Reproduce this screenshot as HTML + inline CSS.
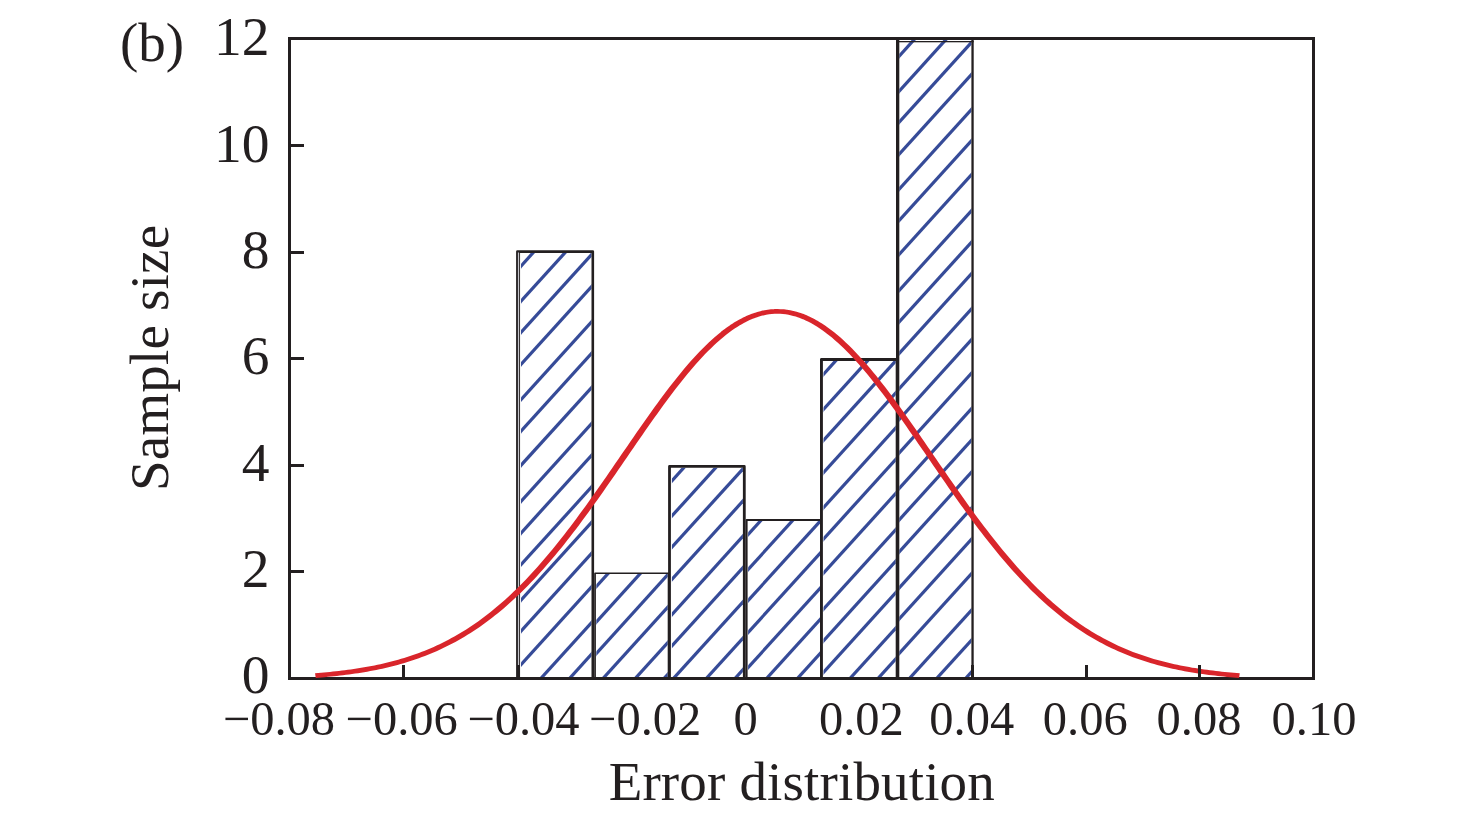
<!DOCTYPE html>
<html lang="en"><head><meta charset="utf-8"><title>Error distribution histogram (b)</title>
<style>html,body{margin:0;padding:0;background:#fff;}body{width:1476px;height:825px;overflow:hidden;}svg{display:block;}text{font-family:"Liberation Serif","Times New Roman",Times,serif;fill:#231f20;}</style></head><body>
<svg width="1476" height="825" viewBox="0 0 1476 825">
<rect width="1476" height="825" fill="#ffffff"/>
<defs>
<clipPath id="c0"><rect x="521.00" y="252.90" width="70.50" height="425.60"/></clipPath>
<clipPath id="c1"><rect x="596.30" y="574.10" width="71.40" height="104.40"/></clipPath>
<clipPath id="c2"><rect x="671.90" y="467.80" width="71.00" height="210.70"/></clipPath>
<clipPath id="c3"><rect x="748.10" y="520.90" width="71.90" height="157.60"/></clipPath>
<clipPath id="c4"><rect x="823.50" y="360.90" width="72.20" height="317.60"/></clipPath>
<clipPath id="c5"><rect x="899.3" y="40" width="72.1" height="638.5"/></clipPath>
</defs>
<rect x="518.70" y="252.90" width="72.80" height="425.60" fill="#ffffff"/>
<rect x="595.90" y="574.10" width="71.80" height="104.40" fill="#ffffff"/>
<rect x="670.90" y="467.80" width="72.00" height="210.70" fill="#ffffff"/>
<rect x="747.60" y="520.90" width="72.40" height="157.60" fill="#ffffff"/>
<rect x="822.90" y="360.90" width="72.80" height="317.60" fill="#ffffff"/>
<rect x="898.60" y="42.80" width="72.40" height="635.70" fill="#ffffff"/>
<g clip-path="url(#c0)" stroke="#364b98" stroke-width="3.20" fill="none">
<line x1="513.70" y1="274.07" x2="601.70" y2="177.10"/>
<line x1="513.70" y1="309.23" x2="601.70" y2="212.26"/>
<line x1="513.70" y1="340.38" x2="601.70" y2="243.40"/>
<line x1="513.70" y1="372.53" x2="601.70" y2="275.55"/>
<line x1="513.70" y1="407.69" x2="601.70" y2="310.71"/>
<line x1="513.70" y1="439.14" x2="601.70" y2="342.16"/>
<line x1="513.70" y1="473.29" x2="601.70" y2="376.32"/>
<line x1="513.70" y1="509.46" x2="601.70" y2="412.49"/>
<line x1="513.70" y1="541.11" x2="601.70" y2="444.13"/>
<line x1="513.70" y1="572.75" x2="601.70" y2="475.78"/>
<line x1="513.70" y1="608.12" x2="601.70" y2="511.14"/>
<line x1="513.70" y1="639.06" x2="601.70" y2="542.09"/>
<line x1="513.70" y1="672.72" x2="601.70" y2="575.74"/>
<line x1="513.70" y1="708.38" x2="601.70" y2="611.41"/>
<line x1="513.70" y1="740.03" x2="601.70" y2="643.05"/>
<line x1="513.70" y1="772.18" x2="601.70" y2="675.20"/>
</g>
<g clip-path="url(#c1)" stroke="#364b98" stroke-width="3.20" fill="none">
<line x1="590.90" y1="592.45" x2="676.10" y2="498.56"/>
<line x1="590.90" y1="627.94" x2="676.10" y2="534.05"/>
<line x1="590.90" y1="659.38" x2="676.10" y2="565.49"/>
<line x1="590.90" y1="691.83" x2="676.10" y2="597.94"/>
<line x1="590.90" y1="727.33" x2="676.10" y2="633.44"/>
<line x1="590.90" y1="759.07" x2="676.10" y2="665.18"/>
</g>
<g clip-path="url(#c2)" stroke="#364b98" stroke-width="3.20" fill="none">
<line x1="665.90" y1="487.38" x2="753.50" y2="390.85"/>
<line x1="665.90" y1="522.58" x2="753.50" y2="426.05"/>
<line x1="665.90" y1="553.76" x2="753.50" y2="457.22"/>
<line x1="665.90" y1="585.94" x2="753.50" y2="489.40"/>
<line x1="665.90" y1="621.13" x2="753.50" y2="524.60"/>
<line x1="665.90" y1="652.61" x2="753.50" y2="556.07"/>
<line x1="665.90" y1="686.80" x2="753.50" y2="590.27"/>
<line x1="665.90" y1="723.00" x2="753.50" y2="626.47"/>
<line x1="665.90" y1="754.68" x2="753.50" y2="658.15"/>
</g>
<g clip-path="url(#c3)" stroke="#364b98" stroke-width="3.20" fill="none">
<line x1="742.60" y1="540.61" x2="829.00" y2="445.40"/>
<line x1="742.60" y1="575.61" x2="829.00" y2="480.40"/>
<line x1="742.60" y1="606.61" x2="829.00" y2="511.40"/>
<line x1="742.60" y1="638.61" x2="829.00" y2="543.40"/>
<line x1="742.60" y1="673.61" x2="829.00" y2="578.40"/>
<line x1="742.60" y1="704.91" x2="829.00" y2="609.70"/>
<line x1="742.60" y1="738.91" x2="829.00" y2="643.70"/>
<line x1="742.60" y1="774.91" x2="829.00" y2="679.70"/>
</g>
<g clip-path="url(#c4)" stroke="#364b98" stroke-width="3.20" fill="none">
<line x1="817.90" y1="380.40" x2="906.50" y2="282.76"/>
<line x1="817.90" y1="415.50" x2="906.50" y2="317.86"/>
<line x1="817.90" y1="446.58" x2="906.50" y2="348.95"/>
<line x1="817.90" y1="478.67" x2="906.50" y2="381.04"/>
<line x1="817.90" y1="513.77" x2="906.50" y2="416.13"/>
<line x1="817.90" y1="545.16" x2="906.50" y2="447.52"/>
<line x1="817.90" y1="579.25" x2="906.50" y2="481.62"/>
<line x1="817.90" y1="615.36" x2="906.50" y2="517.72"/>
<line x1="817.90" y1="646.94" x2="906.50" y2="549.31"/>
<line x1="817.90" y1="678.53" x2="906.50" y2="580.90"/>
<line x1="817.90" y1="713.83" x2="906.50" y2="616.20"/>
<line x1="817.90" y1="744.72" x2="906.50" y2="647.08"/>
<line x1="817.90" y1="778.31" x2="906.50" y2="680.68"/>
</g>
<g clip-path="url(#c5)" stroke="#364b98" stroke-width="3.20" fill="none">
<line x1="893.60" y1="62.21" x2="981.20" y2="-34.33"/>
<line x1="893.60" y1="97.21" x2="981.20" y2="0.67"/>
<line x1="893.60" y1="128.21" x2="981.20" y2="31.67"/>
<line x1="893.60" y1="160.21" x2="981.20" y2="63.67"/>
<line x1="893.60" y1="195.21" x2="981.20" y2="98.67"/>
<line x1="893.60" y1="226.51" x2="981.20" y2="129.97"/>
<line x1="893.60" y1="260.51" x2="981.20" y2="163.97"/>
<line x1="893.60" y1="296.51" x2="981.20" y2="199.97"/>
<line x1="893.60" y1="328.01" x2="981.20" y2="231.47"/>
<line x1="893.60" y1="359.51" x2="981.20" y2="262.97"/>
<line x1="893.60" y1="394.71" x2="981.20" y2="298.17"/>
<line x1="893.60" y1="425.51" x2="981.20" y2="328.97"/>
<line x1="893.60" y1="459.01" x2="981.20" y2="362.47"/>
<line x1="893.60" y1="494.51" x2="981.20" y2="397.97"/>
<line x1="893.60" y1="526.01" x2="981.20" y2="429.47"/>
<line x1="893.60" y1="558.01" x2="981.20" y2="461.47"/>
<line x1="893.60" y1="594.01" x2="981.20" y2="497.47"/>
<line x1="893.60" y1="625.01" x2="981.20" y2="528.47"/>
<line x1="893.60" y1="659.51" x2="981.20" y2="562.97"/>
<line x1="893.60" y1="695.91" x2="981.20" y2="599.37"/>
<line x1="893.60" y1="725.91" x2="981.20" y2="629.37"/>
<line x1="893.60" y1="757.81" x2="981.20" y2="661.27"/>
</g>
<rect x="517.40" y="251.60" width="75.40" height="426.90" fill="none" stroke="#231f20" stroke-width="2.60" stroke-linejoin="round"/>
<rect x="595.05" y="573.25" width="73.50" height="105.25" fill="none" stroke="#231f20" stroke-width="1.70" stroke-linejoin="round"/>
<rect x="669.50" y="466.40" width="74.80" height="212.10" fill="none" stroke="#231f20" stroke-width="2.80" stroke-linejoin="round"/>
<rect x="746.60" y="519.90" width="74.40" height="158.60" fill="none" stroke="#231f20" stroke-width="2.00" stroke-linejoin="round"/>
<rect x="821.45" y="359.45" width="75.70" height="319.05" fill="none" stroke="#231f20" stroke-width="2.90" stroke-linejoin="round"/>
<g fill="#231f20"><rect x="896" y="40" width="3.3" height="638.5"/><rect x="971.4" y="40" width="2.3" height="638.5"/><rect x="896" y="41" width="77.7" height="1.3"/></g>
<rect x="517.9" y="252.5" width="1.2" height="425" fill="#c4c4ca"/>
<rect x="519.1" y="252" width="0.95" height="426" fill="#231f20"/>
<rect x="289.5" y="38.5" width="1024.0" height="640.0" fill="none" stroke="#231f20" stroke-width="3"/>
<polyline transform="scale(1.400,1)" points="225.29,675.57 227.43,675.33 229.57,675.08 231.71,674.82 233.86,674.54 236.00,674.25 238.14,673.94 240.29,673.61 242.43,673.27 244.57,672.92 246.71,672.54 248.86,672.15 251.00,671.74 253.14,671.31 255.29,670.85 257.43,670.38 259.57,669.88 261.71,669.36 263.86,668.82 266.00,668.25 268.14,667.66 270.29,667.03 272.43,666.39 274.57,665.71 276.71,665.00 278.86,664.27 281.00,663.50 283.14,662.70 285.29,661.86 287.43,660.99 289.57,660.09 291.71,659.15 293.86,658.17 296.00,657.16 298.14,656.10 300.29,655.01 302.43,653.87 304.57,652.69 306.71,651.47 308.86,650.20 311.00,648.89 313.14,647.53 315.29,646.12 317.43,644.67 319.57,643.16 321.71,641.61 323.86,640.00 326.00,638.34 328.14,636.63 330.29,634.86 332.43,633.04 334.57,631.16 336.71,629.23 338.86,627.23 341.00,625.18 343.14,623.08 345.29,620.91 347.43,618.68 349.57,616.39 351.71,614.04 353.86,611.63 356.00,609.15 358.14,606.62 360.29,604.02 362.43,601.36 364.57,598.64 366.71,595.85 368.86,593.00 371.00,590.09 373.14,587.11 375.29,584.08 377.43,580.98 379.57,577.82 381.71,574.59 383.86,571.31 386.00,567.97 388.14,564.56 390.29,561.10 392.43,557.59 394.57,554.01 396.71,550.38 398.86,546.70 401.00,542.96 403.14,539.17 405.29,535.33 407.43,531.44 409.57,527.51 411.71,523.53 413.86,519.51 416.00,515.45 418.14,511.35 420.29,507.21 422.43,503.04 424.57,498.84 426.71,494.61 428.86,490.35 431.00,486.06 433.14,481.76 435.29,477.44 437.43,473.10 439.57,468.75 441.71,464.39 443.86,460.02 446.00,455.65 448.14,451.29 450.29,446.92 452.43,442.56 454.57,438.22 456.71,433.88 458.86,429.57 461.00,425.28 463.14,421.01 465.29,416.77 467.43,412.57 469.57,408.40 471.71,404.27 473.86,400.19 476.00,396.15 478.14,392.16 480.29,388.23 482.43,384.36 484.57,380.56 486.71,376.82 488.86,373.15 491.00,369.55 493.14,366.03 495.29,362.60 497.43,359.25 499.57,355.99 501.71,352.81 503.86,349.74 506.00,346.76 508.14,343.89 510.29,341.12 512.43,338.45 514.57,335.90 516.71,333.46 518.86,331.14 521.00,328.94 523.14,326.85 525.29,324.90 527.43,323.06 529.57,321.36 531.71,319.78 533.86,318.34 536.00,317.02 538.14,315.85 540.29,314.81 542.43,313.90 544.57,313.13 546.71,312.51 548.86,312.02 551.00,311.67 553.14,311.47 555.29,311.40 557.43,311.48 559.57,311.69 561.71,312.05 563.86,312.54 566.00,313.18 568.14,313.96 570.29,314.87 572.43,315.92 574.57,317.11 576.71,318.43 578.86,319.88 581.00,321.47 583.14,323.18 585.29,325.02 587.43,326.99 589.57,329.08 591.71,331.29 593.86,333.62 596.00,336.07 598.14,338.63 600.29,341.30 602.43,344.08 604.57,346.96 606.71,349.94 608.86,353.02 611.00,356.20 613.14,359.47 615.29,362.83 617.43,366.27 619.57,369.79 621.71,373.39 623.86,377.06 626.00,380.81 628.14,384.62 630.29,388.49 632.43,392.43 634.57,396.42 636.71,400.46 638.86,404.54 641.00,408.68 643.14,412.85 645.29,417.05 647.43,421.29 649.57,425.56 651.71,429.86 653.86,434.17 656.00,438.51 658.14,442.85 660.29,447.21 662.43,451.58 664.57,455.94 666.71,460.31 668.86,464.68 671.00,469.04 673.14,473.39 675.29,477.73 677.43,482.05 679.57,486.35 681.71,490.63 683.86,494.89 686.00,499.12 688.14,503.32 690.29,507.49 692.43,511.62 694.57,515.72 696.71,519.78 698.86,523.80 701.00,527.77 703.14,531.70 705.29,535.59 707.43,539.42 709.57,543.21 711.71,546.94 713.86,550.62 716.00,554.25 718.14,557.82 720.29,561.34 722.43,564.79 724.57,568.19 726.71,571.53 728.86,574.81 731.00,578.03 733.14,581.19 735.29,584.28 737.43,587.31 739.57,590.28 741.71,593.19 743.86,596.04 746.00,598.82 748.14,601.54 750.29,604.20 752.43,606.79 754.57,609.32 756.71,611.79 758.86,614.20 761.00,616.54 763.14,618.83 765.29,621.05 767.43,623.22 769.57,625.32 771.71,627.37 773.86,629.36 776.00,631.29 778.14,633.16 780.29,634.98 782.43,636.74 784.57,638.45 786.71,640.11 788.86,641.71 791.00,643.27 793.14,644.77 795.29,646.22 797.43,647.62 799.57,648.98 801.71,650.29 803.86,651.55 806.00,652.77 808.14,653.95 810.29,655.08 812.43,656.18 814.57,657.23 816.71,658.24 818.86,659.22 821.00,660.15 823.14,661.05 825.29,661.92 827.43,662.75 829.57,663.55 831.71,664.32 833.86,665.05 836.00,665.76 838.14,666.43 840.29,667.08 842.43,667.70 844.57,668.29 846.71,668.86 848.86,669.40 851.00,669.92 853.14,670.41 855.29,670.88 857.43,671.34 859.57,671.77 861.71,672.18 863.86,672.57 866.00,672.94 868.14,673.30 870.29,673.64 872.43,673.96 874.57,674.27 876.71,674.56 878.86,674.83 881.00,675.10 883.14,675.35 885.29,675.58" fill="none" stroke="#d9252b" stroke-width="4.7" stroke-linejoin="round"/>
<g fill="#231f20">
<rect x="402" y="665" width="3" height="13"/>
<rect x="517" y="665" width="3" height="13"/>
<rect x="971" y="665" width="3" height="13"/>
<rect x="1085" y="665" width="3" height="13"/>
<rect x="1198" y="665" width="3" height="13"/>
<rect x="290" y="144" width="14" height="3"/>
<rect x="290" y="251" width="14" height="3"/>
<rect x="290" y="357" width="14" height="3"/>
<rect x="290" y="464" width="14" height="3"/>
<rect x="290" y="570" width="14" height="3"/>
</g>
<text x="120.0" y="61.2" font-size="55.0" text-anchor="start" >(b)</text>
<text x="269.5" y="692.7" font-size="55.5" text-anchor="end" >0</text>
<text x="269.5" y="587.4" font-size="55.5" text-anchor="end" >2</text>
<text x="269.5" y="481.0" font-size="55.5" text-anchor="end" >4</text>
<text x="269.5" y="373.8" font-size="55.5" text-anchor="end" >6</text>
<text x="269.5" y="268.1" font-size="55.5" text-anchor="end" >8</text>
<text x="269.5" y="161.5" font-size="55.5" text-anchor="end" >10</text>
<text x="269.5" y="55.1" font-size="55.5" text-anchor="end" >12</text>
<text x="279.0" y="735.3" font-size="48.5" text-anchor="middle" >−0.08</text>
<text x="401.7" y="735.3" font-size="48.5" text-anchor="middle" >−0.06</text>
<text x="523.5" y="735.3" font-size="48.5" text-anchor="middle" >−0.04</text>
<text x="645.2" y="735.3" font-size="48.5" text-anchor="middle" >−0.02</text>
<text x="745.5" y="735.3" font-size="48.5" text-anchor="middle" >0</text>
<text x="861.4" y="735.3" font-size="48.5" text-anchor="middle" >0.02</text>
<text x="971.7" y="735.3" font-size="48.5" text-anchor="middle" >0.04</text>
<text x="1085.3" y="735.3" font-size="48.5" text-anchor="middle" >0.06</text>
<text x="1199.0" y="735.3" font-size="48.5" text-anchor="middle" >0.08</text>
<text x="1314.0" y="735.3" font-size="48.5" text-anchor="middle" >0.10</text>
<text x="801.8" y="799.9" font-size="55.0" text-anchor="middle" letter-spacing="0.16">Error distribution</text>
<text transform="translate(167.8,357.9) rotate(-90)" font-size="55" letter-spacing="0.2" text-anchor="middle">Sample size</text>
</svg></body></html>
